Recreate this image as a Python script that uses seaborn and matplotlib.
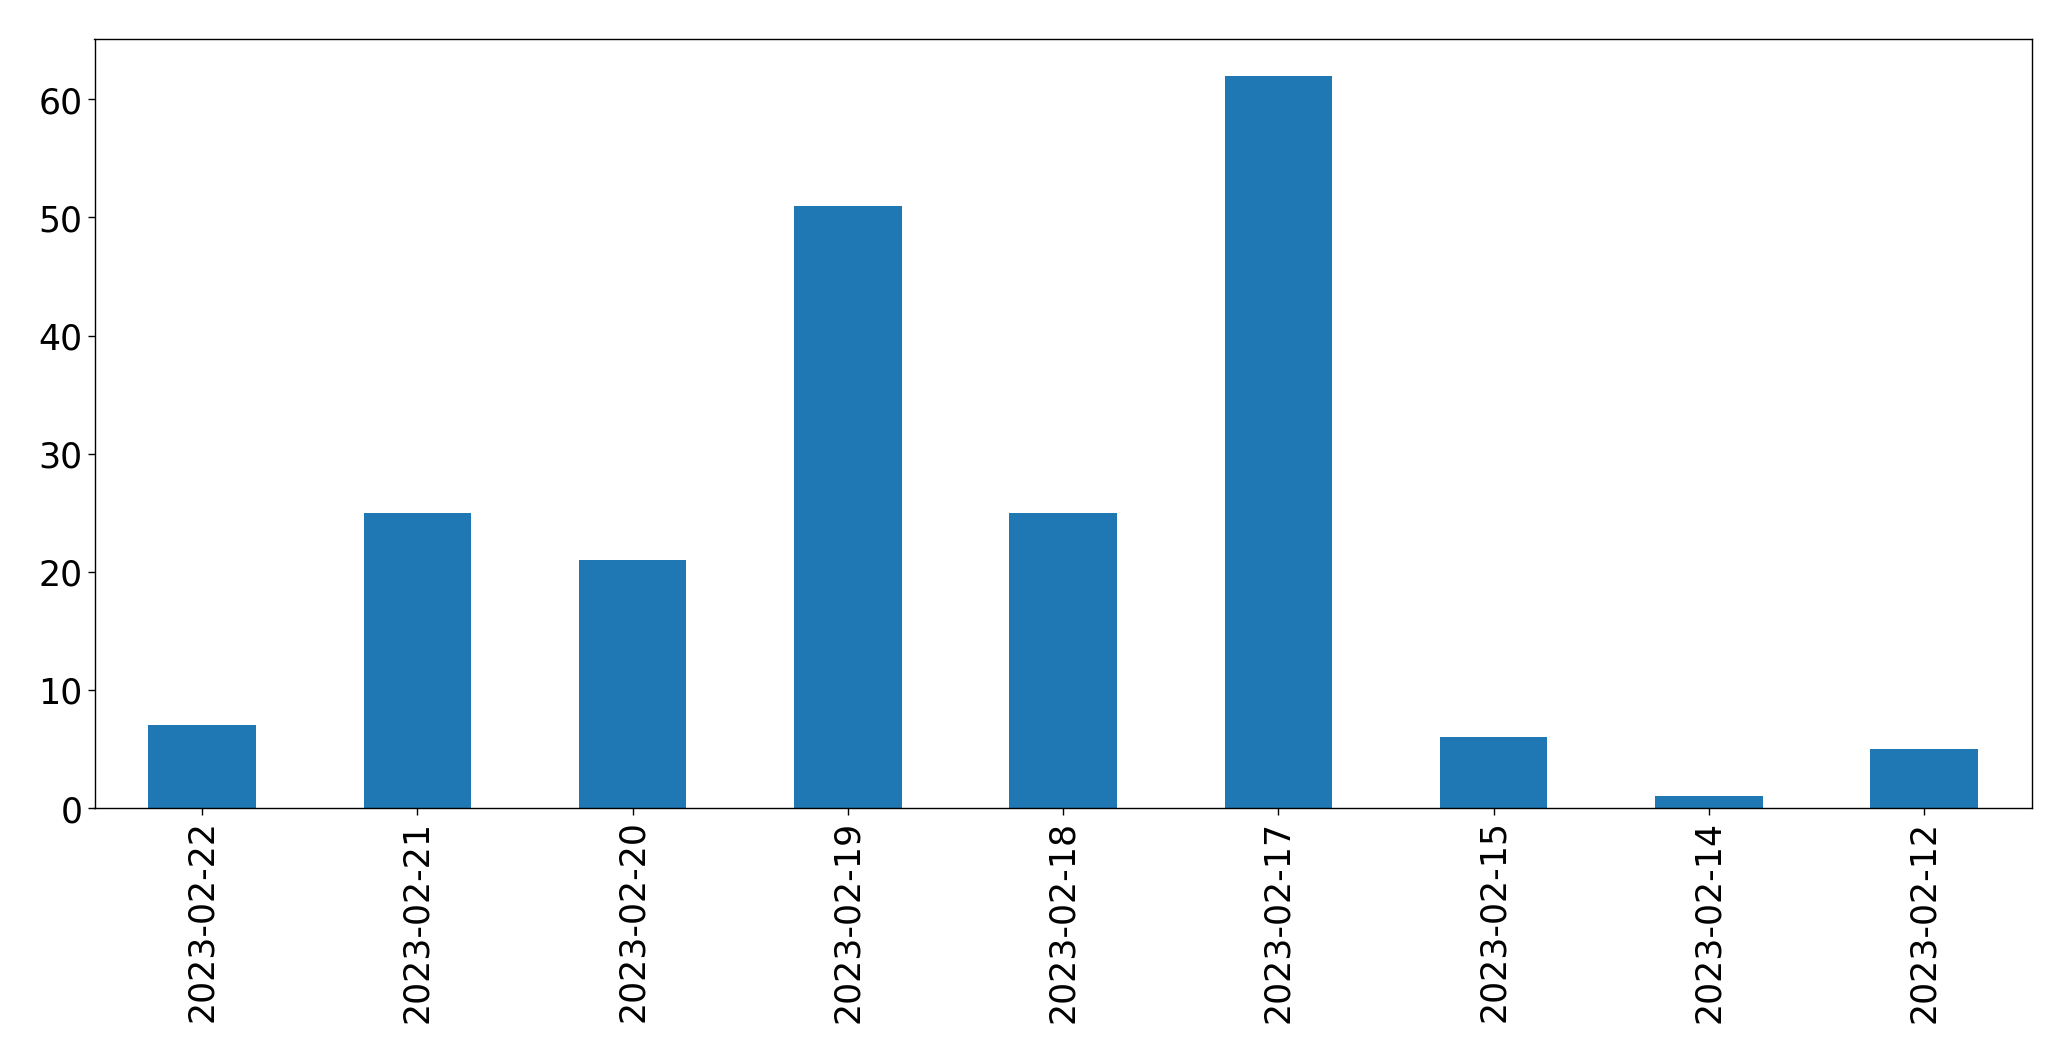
import matplotlib
matplotlib.use("Agg")
import matplotlib.pyplot as plt
import seaborn as sns
import pandas as pd

dates = ["2023-02-22", "2023-02-21", "2023-02-20", "2023-02-19", "2023-02-18",
         "2023-02-17", "2023-02-15", "2023-02-14", "2023-02-12"]
counts = [7, 25, 21, 51, 25, 62, 6, 1, 5]

df = pd.DataFrame({"date": dates, "count": counts})

sns.set_style("ticks")
plt.rcParams.update({
    "font.family": ["DejaVu Sans"],
    "text.color": "black",
    "axes.labelcolor": "black",
    "axes.edgecolor": "black",
    "xtick.color": "black",
    "ytick.color": "black",
    "axes.linewidth": 1.0,
})

fig = plt.figure(figsize=(20.71, 10.605), dpi=100)
ax = fig.add_axes([94.5 / 2071, 1 - 809 / 1061, (2031.7 - 94.5) / 2071, (809 - 39.5) / 1061])

sns.barplot(data=df, x="date", y="count", order=dates, color="#1f77b4",
            saturation=1, width=0.5, ax=ax, linewidth=0)

ax.set_xlim(-0.5, len(dates) - 0.5)
ax.set_ylim(0, max(counts) * 1.05)
ax.set_xlabel("")
ax.set_ylabel("")
ax.tick_params(axis="both", labelsize=25, length=5, width=1, color="black",
               labelcolor="black")
ax.tick_params(axis="x", rotation=90)
for s in ax.spines.values():
    s.set_visible(True)
    s.set_color("black")
    s.set_linewidth(1)

fig.savefig("out.png", dpi=100)
